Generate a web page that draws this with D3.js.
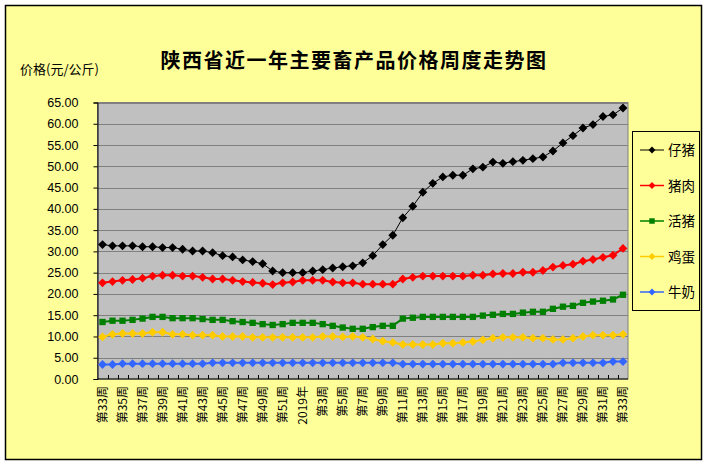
<!DOCTYPE html>
<html>
<head>
<meta charset="utf-8">
<script src="https://cdn.jsdelivr.net/npm/d3@7"></script>
<style>
  body { margin: 0; background: #fff; }
  text { font-family: "Noto Sans CJK SC", sans-serif; }
</style>
</head>
<body>
<svg width="709" height="466" id="mainsvg"></svg>
<script>
// categories: week labels from 2018 week 33 to 2019 week 33
const weeks = ['第33周','第34周','第35周','第36周','第37周','第38周','第39周','第40周','第41周','第42周',
  '第43周','第44周','第45周','第46周','第47周','第48周','第49周','第50周','第51周','第52周',
  '2019年','第2周','第3周','第4周','第5周','第6周','第7周','第8周','第9周','第10周',
  '第11周','第12周','第13周','第14周','第15周','第16周','第17周','第18周','第19周','第20周',
  '第21周','第22周','第23周','第24周','第25周','第26周','第27周','第28周','第29周','第30周',
  '第31周','第32周','第33周'];

const piglet = [31.6,31.3,31.3,31.3,31.1,31.1,30.9,30.9,30.5,30.1,
  30.1,29.7,29.0,28.7,28.0,27.6,27.1,25.4,25.0,25.0,
  25.0,25.4,25.7,26.1,26.4,26.6,27.3,29.0,31.6,33.8,
  37.9,40.6,43.9,46.0,47.5,47.9,47.9,49.4,49.8,51.0,
  50.7,51.1,51.4,51.8,52.2,53.6,55.5,57.2,59.0,59.8,
  61.7,62.1,63.7];
const pork = [22.6,22.9,23.2,23.4,23.7,24.2,24.4,24.4,24.2,24.2,
  23.9,23.5,23.5,23.2,22.9,22.7,22.5,22.2,22.6,22.8,
  23.2,23.2,23.2,22.8,22.6,22.6,22.3,22.3,22.3,22.3,
  23.5,23.9,24.2,24.2,24.2,24.2,24.2,24.4,24.4,24.7,
  24.8,24.8,25.1,25.1,25.5,26.3,26.7,27.0,27.7,28.1,
  28.6,29.1,30.7];
const hog = [13.4,13.7,13.7,13.9,14.2,14.6,14.6,14.3,14.3,14.3,
  14.1,13.9,13.9,13.6,13.4,13.2,12.9,12.7,12.9,13.2,
  13.2,13.2,12.9,12.5,12.1,11.8,11.8,12.2,12.5,12.5,
  14.2,14.4,14.6,14.6,14.6,14.6,14.6,14.6,14.9,15.1,
  15.3,15.3,15.6,15.8,15.8,16.5,17.0,17.2,17.9,18.2,
  18.4,18.7,19.8];
const egg = [9.9,10.5,10.7,10.7,10.7,11.0,11.0,10.5,10.5,10.3,
  10.3,10.3,10.0,10.0,10.0,9.8,9.8,9.8,9.8,9.8,
  9.8,9.8,10.0,10.0,9.9,10.0,9.8,9.4,8.9,8.6,
  8.1,8.1,8.1,8.1,8.4,8.4,8.6,8.8,9.2,9.6,
  9.8,9.8,9.8,9.6,9.6,9.3,9.3,9.6,10.0,10.3,
  10.3,10.3,10.5];
const milk = [3.4,3.4,3.6,3.6,3.6,3.6,3.6,3.6,3.6,3.6,
  3.6,3.8,3.8,3.8,3.8,3.8,3.8,3.8,3.8,3.8,
  3.8,3.8,3.8,3.8,3.8,3.8,3.8,3.8,3.8,3.8,
  3.5,3.5,3.5,3.5,3.5,3.5,3.5,3.5,3.5,3.5,
  3.5,3.5,3.5,3.5,3.5,3.5,3.8,3.8,3.8,3.8,
  3.8,4.1,4.1];

const yTicks = [0,5,10,15,20,25,30,35,40,45,50,55,60,65];

const series = [
  {name: '仔猪', values: piglet, color: '#000000', shape: 'diamond', lw: 1},
  {name: '猪肉', values: pork,   color: '#ff0000', shape: 'diamond', lw: 2},
  {name: '活猪', values: hog,    color: '#008000', shape: 'square',  lw: 2},
  {name: '鸡蛋', values: egg,    color: '#ffcc00', shape: 'diamond', lw: 2},
  {name: '牛奶', values: milk,   color: '#3366ff', shape: 'diamond', lw: 2}
];

const svg = d3.select('#mainsvg');

// chart frame
svg.append('rect')
  .attr('x', 5.5).attr('y', 5.5).attr('width', 696).attr('height', 454)
  .attr('fill', '#ffff99').attr('stroke', '#000').attr('stroke-width', 1.5);

const plot = {left: 97.5, right: 628, top: 102.5, bottom: 379};

// week labels repeat (第33周 twice), so the band scale works on indices
const idx = d3.range(weeks.length);
const x = d3.scaleBand().domain(idx).range([plot.left, plot.right]);
const y = d3.scaleLinear().domain([0, 65]).range([plot.bottom, plot.top]);
const cx = i => x(i) + x.bandwidth() / 2;

// plot area
svg.append('rect')
  .attr('x', plot.left).attr('y', plot.top)
  .attr('width', plot.right - plot.left).attr('height', plot.bottom - plot.top)
  .attr('fill', '#c0c0c0').attr('stroke', '#808080');

// gridlines
svg.append('g').selectAll('line')
  .data(yTicks.slice(1))
  .enter().append('line')
  .attr('x1', plot.left).attr('x2', plot.right)
  .attr('y1', d => Math.round(y(d)) + 0.5).attr('y2', d => Math.round(y(d)) + 0.5)
  .attr('stroke', '#808080').attr('stroke-width', 1.2);

// y axis
const yAxis = svg.append('g')
  .attr('transform', `translate(${plot.left},0)`)
  .call(d3.axisLeft(y).tickValues(yTicks).tickSize(4).tickPadding(15).tickFormat(d3.format('.2f')));
yAxis.select('.domain').attr('stroke', '#000');
yAxis.selectAll('.tick line').attr('stroke', '#000');
yAxis.selectAll('text')
  .style('font-family', '"Liberation Sans", Arial, sans-serif')
  .style('font-size', '12.5px').attr('fill', '#000');

// x axis: ticks at category boundaries, pointing into the plot
const xAxis = svg.append('g')
  .attr('transform', `translate(0,${plot.bottom})`);
xAxis.append('line')
  .attr('x1', plot.left).attr('x2', plot.right)
  .attr('stroke', '#000');
xAxis.selectAll('line.tk')
  .data(idx.slice(1))
  .enter().append('line').attr('class', 'tk')
  .attr('x1', i => Math.round(x(i)) + 0.5).attr('x2', i => Math.round(x(i)) + 0.5)
  .attr('y1', 0).attr('y2', -4)
  .attr('stroke', '#000');
xAxis.selectAll('text')
  .data(idx.filter(i => i % 2 === 0))
  .enter().append('text')
  .attr('transform', i => `translate(${cx(i) + 4},7) rotate(-90)`)
  .attr('text-anchor', 'end')
  .style('font-size', '12px')
  .attr('fill', '#000')
  .text(i => weeks[i]);

// symbols
const symbolFor = s => s === 'square'
  ? d3.symbol(d3.symbolSquare, 40)
  : d3.symbol(d3.symbolDiamond2, 50);

const line = d3.line()
  .x((d, i) => cx(i))
  .y(d => y(d));

series.forEach(s => {
  const g = svg.append('g');
  g.append('path')
    .attr('d', line(s.values))
    .attr('fill', 'none')
    .attr('stroke', s.color)
    .attr('stroke-width', s.lw);
  g.selectAll('path.pt')
    .data(s.values)
    .enter().append('path').attr('class', 'pt')
    .attr('transform', (d, i) => `translate(${cx(i)},${y(d)})`)
    .attr('d', symbolFor(s.shape)())
    .attr('fill', s.color);
});

// title and axis label
svg.append('text')
  .attr('x', 354).attr('y', 68)
  .attr('text-anchor', 'middle')
  .style('font-size', '20px').style('font-weight', 'bold')
  .style('letter-spacing', '1.5px')
  .text('陕西省近一年主要畜产品价格周度走势图');

svg.append('text')
  .attr('x', 20).attr('y', 74)
  .style('font-size', '13px')
  .text('价格(元/公斤)');

// legend
const legend = svg.append('g');
legend.append('rect')
  .attr('x', 632.5).attr('y', 131.5).attr('width', 67).attr('height', 179)
  .attr('fill', 'none').attr('stroke', '#000');
const items = legend.selectAll('g.item')
  .data(series)
  .enter().append('g').attr('class', 'item')
  .attr('transform', (d, i) => `translate(0,${150 + i * 35.5})`);
items.append('line')
  .attr('x1', 640).attr('x2', 664)
  .attr('stroke', d => d.color).attr('stroke-width', d => d.lw === 1 ? 1 : 1.5);
items.append('path')
  .attr('transform', 'translate(652,0)')
  .attr('d', d => d.shape === 'square' ? d3.symbol(d3.symbolSquare, 30)() : d3.symbol(d3.symbolDiamond2, 30)())
  .attr('fill', d => d.color);
items.append('text')
  .attr('x', 668).attr('y', 5)
  .style('font-size', '13.5px')
  .text(d => d.name);
</script>
</body>
</html>
